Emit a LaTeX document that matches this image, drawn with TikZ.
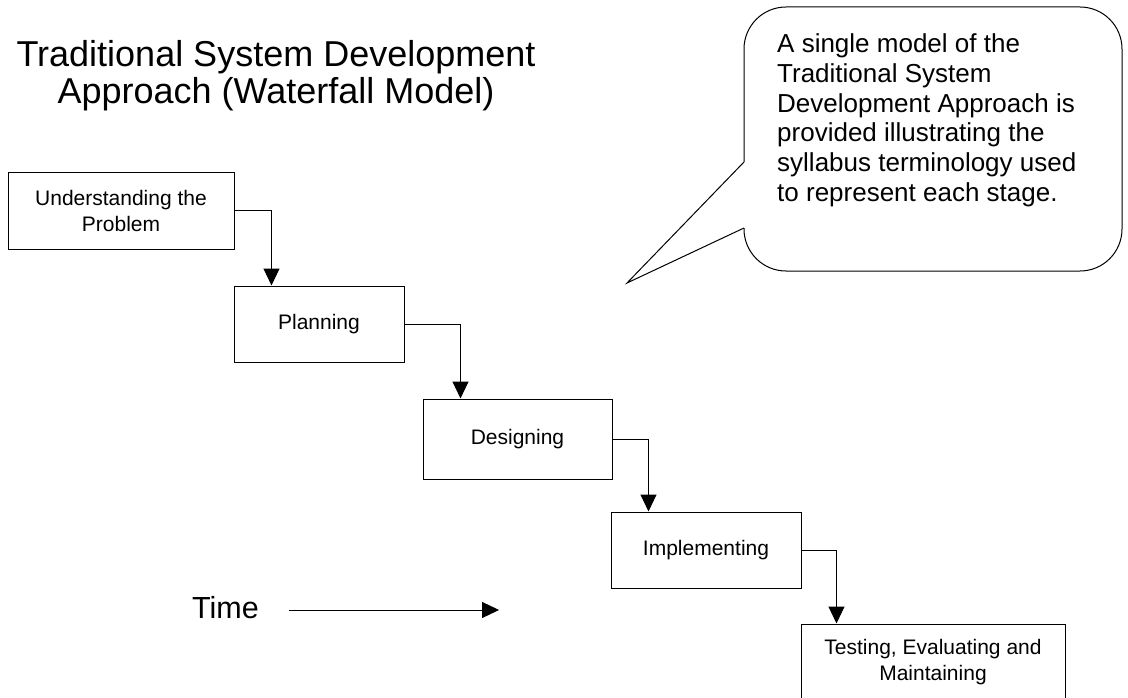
\documentclass[tikz,border=0pt]{standalone}
\usepackage{fontspec}
\setmainfont{Liberation Sans}
\usetikzlibrary{arrows.meta}

\begin{document}
\begin{tikzpicture}[x=1pt,y=-1pt]
\tikzset{stage/.style = {shape=rectangle,draw,align=center,inner sep=0pt,line width=1pt,font=\fontsize{21}{26}\selectfont}}
\tikzset{flow/.style = {-{Triangle[length=17pt,width=16pt]},line width=1pt}}
\useasboundingbox (0,0) rectangle (1128,698);
\clip (0,0) rectangle (1128,698);

\node[anchor=base,align=center,font=\fontsize{36}{37}\selectfont] (title) at (276,104) {Traditional System Development\\Approach (Waterfall Model)};

\node[stage,minimum width=226pt,minimum height=76pt] (u) at (121,211) {Understanding the\\Problem};
\node[stage,minimum width=170pt,minimum height=76pt] (p) at (319,324) {Planning};
\node[stage,minimum width=189pt,minimum height=80pt] (d) at (517.5,439) {Designing};
\node[stage,minimum width=190pt,minimum height=76pt] (i) at (706,550) {Implementing};
\node[stage,minimum width=264pt,minimum height=76pt] (t) at (933,662) {Testing, Evaluating and\\Maintaining};

\draw[flow] (u.east) -| ([xshift=38pt]p.north west);
\draw[flow] (p.east) -| ([xshift=38pt]d.north west);
\draw[flow] (d.east) -| ([xshift=38pt]i.north west);
\draw[flow] (i.east) -| ([xshift=36pt]t.north west);

% callout
\draw[line width=1pt,rounded corners=42pt] (744,162) -- (744,7) -- (1122,7) -- (1122,271) -- (744,271) -- (744,228);
\draw[line width=1pt] (744,162) -- (627,283) -- (744,228);
\node[anchor=base west,align=left,inner sep=0pt,font=\fontsize{26}{30}\selectfont] (note) at (777,202) {A single model of the\\Traditional System\\Development Approach is\\provided illustrating the\\syllabus terminology used\\to represent each stage.};

\node[anchor=base west,inner sep=0pt,font=\fontsize{30.5}{31}\selectfont] (time) at (192,618) {Time};
\draw[flow] ([shift={(30,-8)}]time.base east) -- ([shift={(240,-8)}]time.base east);
\end{tikzpicture}
\end{document}
